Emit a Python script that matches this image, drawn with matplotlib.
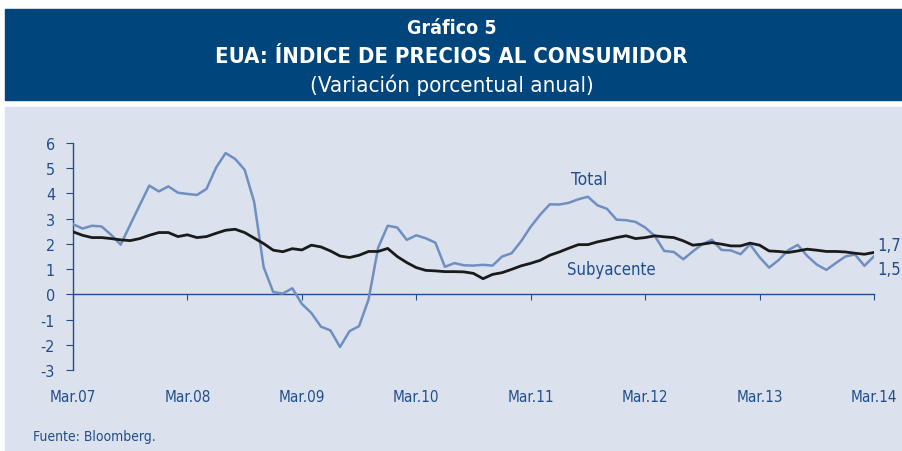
import matplotlib
matplotlib.use('Agg')
import matplotlib.pyplot as plt
from matplotlib.patches import Rectangle

plt.rcParams['font.family'] = ['DejaVu Sans']
plt.rcParams['font.stretch'] = 'condensed'

# monthly data, Mar.07 - Mar.14
total = [2.78, 2.61, 2.72, 2.69, 2.36, 1.97, 2.76, 3.54, 4.31, 4.08, 4.28, 4.03,
         3.98, 3.94, 4.18, 5.02, 5.60, 5.37, 4.94, 3.66, 1.07, 0.09, 0.03, 0.24,
         -0.38, -0.74, -1.28, -1.43, -2.09, -1.46, -1.26, -0.20, 1.85, 2.72, 2.65, 2.16,
         2.34, 2.22, 2.05, 1.09, 1.24, 1.15, 1.14, 1.17, 1.14, 1.50, 1.63, 2.11,
         2.68, 3.16, 3.57, 3.56, 3.63, 3.77, 3.87, 3.53, 3.39, 2.96, 2.94, 2.87,
         2.65, 2.32, 1.72, 1.68, 1.39, 1.70, 1.99, 2.16, 1.76, 1.74, 1.59, 1.98,
         1.47, 1.06, 1.36, 1.75, 1.96, 1.52, 1.18, 0.97, 1.24, 1.50, 1.58, 1.13,
         1.51]
core = [2.48, 2.34, 2.25, 2.25, 2.21, 2.16, 2.13, 2.21, 2.34, 2.45, 2.45, 2.29,
        2.36, 2.25, 2.29, 2.42, 2.54, 2.58, 2.45, 2.23, 2.01, 1.75, 1.69, 1.81,
        1.76, 1.95, 1.88, 1.72, 1.52, 1.46, 1.55, 1.70, 1.70, 1.82, 1.50, 1.26,
        1.06, 0.95, 0.93, 0.90, 0.90, 0.89, 0.83, 0.62, 0.79, 0.86, 0.99, 1.13,
        1.23, 1.35, 1.55, 1.68, 1.83, 1.97, 1.97, 2.08, 2.16, 2.25, 2.32, 2.21,
        2.25, 2.32, 2.28, 2.25, 2.12, 1.95, 1.99, 2.05, 1.99, 1.92, 1.92, 2.03,
        1.95, 1.72, 1.70, 1.66, 1.72, 1.79, 1.75, 1.70, 1.70, 1.68, 1.63, 1.59,
        1.66]
tick_labels = ['Mar.07', 'Mar.08', 'Mar.09', 'Mar.10', 'Mar.11', 'Mar.12', 'Mar.13', 'Mar.14']
months = list(range(len(total)))

navy = '#00457c'
panel = '#dce1ee'
axis_col = '#1f4e8c'
light = '#6f8fc0'

W, H = 903, 452
fig = plt.figure(figsize=(W / 100, H / 100), dpi=100)
fig.patch.set_facecolor('white')

# header and panel backgrounds
fig.patches.append(Rectangle((5 / W, 1 - 101 / H), 898 / W, 91 / H,
                             transform=fig.transFigure, color=navy, zorder=-5))
fig.patches.append(Rectangle((5 / W, 0), 898 / W, 1 - 108 / H,
                             transform=fig.transFigure, color=panel, zorder=-5))

fig.text(0.5, 1 - 28 / H, 'Gráfico 5', ha='center', va='center', color='white',
         fontsize=14, fontweight='bold')
fig.text(0.5, 1 - 57 / H, 'EUA: ÍNDICE DE PRECIOS AL CONSUMIDOR', ha='center', va='center',
         color='white', fontsize=15.8, fontweight='bold')
fig.text(0.5, 1 - 85 / H, '(Variación porcentual anual)', ha='center', va='center',
         color='white', fontsize=16)

ax = fig.add_axes([73 / W, (H - 371) / H, (874 - 73) / W, (371 - 144) / H])
ax.set_zorder(5)
ax.set_facecolor('none')
ax.plot(months, total, color=light, lw=1.8, zorder=3)
ax.plot(months, core, color='#1a1a1a', lw=2.0, zorder=4)

ax.set_xlim(0, 84)
ax.set_ylim(-3, 6)
ax.set_yticks(range(-3, 7))
ax.set_yticklabels([str(v) for v in range(-3, 7)])
ax.set_xticks(range(0, 85, 12))
ax.set_xticklabels(tick_labels)

for s in ['top', 'right']:
    ax.spines[s].set_visible(False)
ax.spines['left'].set_color(axis_col)
ax.spines['bottom'].set_color(axis_col)
ax.spines['bottom'].set_position(('data', 0))
ax.spines['left'].set_linewidth(1.0)
ax.spines['bottom'].set_linewidth(1.0)
ax.tick_params(axis='y', direction='out', length=5, color=axis_col, labelcolor=axis_col,
               labelsize=11.5, pad=8)
ax.tick_params(axis='x', direction='out', length=4, color=axis_col, labelcolor=axis_col,
               labelsize=11, pad=64)

ax.text(54.1, 4.56, 'Total', color=axis_col, fontsize=12.5, ha='center', va='center')
ax.text(56.5, 0.99, 'Subyacente', color=axis_col, fontsize=12, ha='center', va='center')
ax.text(84.3, 1.94, '1,7', color=axis_col, fontsize=12, ha='left', va='center')
ax.text(84.3, 0.99, '1,5', color=axis_col, fontsize=12, ha='left', va='center')

fig.text(33 / W, 1 - 437 / H, 'Fuente: Bloomberg.', color=axis_col, fontsize=10,
         ha='left', va='center')

fig.savefig('out.png', dpi=100)
